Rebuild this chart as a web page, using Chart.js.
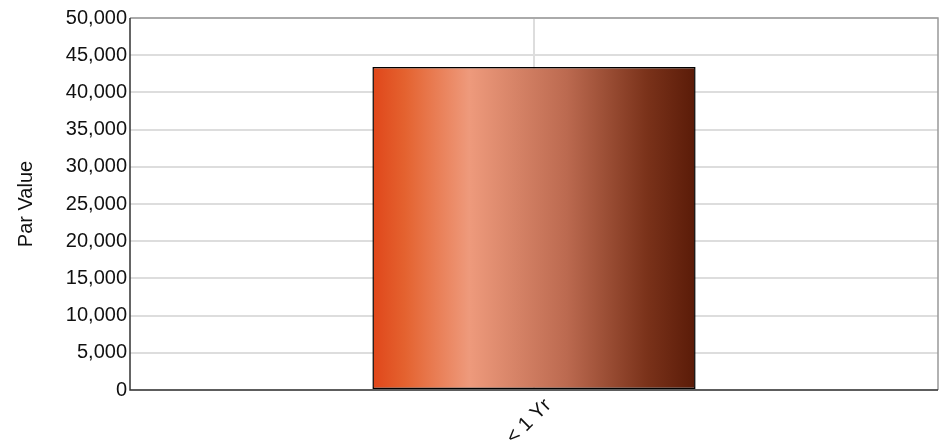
<!DOCTYPE html>
<html>
<head>
<meta charset="utf-8">
<script src="https://cdn.jsdelivr.net/npm/chart.js"></script>
<style>
html,body{margin:0;padding:0;background:#fff;}
#wrap{width:943px;height:445px;}
</style>
</head>
<body>
<div id="wrap"><canvas id="c" width="943" height="445"></canvas></div>
<script>
const categories = ["< 1 Yr"];
const parValues = [43400];
const yTicks = [0, 5000, 10000, 15000, 20000, 25000, 30000, 35000, 40000, 45000, 50000];
const axisTitle = "Par Value";

function barGradient(ctx) {
  const chart = ctx.chart;
  const xs = chart.scales && chart.scales.x;
  if (!xs || !chart.chartArea) return '#c0603f';
  const cw = xs.width / categories.length;
  const cx = xs.getPixelForValue(ctx.dataIndex);
  const w = cw * 0.4;
  const g = chart.ctx.createLinearGradient(cx - w / 2, 0, cx + w / 2, 0);
  g.addColorStop(0, '#E0461A');
  g.addColorStop(0.1, '#E4622F');
  g.addColorStop(0.3, '#EE9A7C');
  g.addColorStop(0.6, '#BC6A50');
  g.addColorStop(0.85, '#7A321A');
  g.addColorStop(1, '#5A1B08');
  return g;
}

const frame = {
  id: 'frame',
  afterDraw(chart) {
    const a = chart.chartArea, c = chart.ctx;
    c.save();
    c.strokeStyle = '#999';
    c.lineWidth = 1.5;
    c.beginPath();
    c.moveTo(a.left, a.top); c.lineTo(a.right, a.top); c.lineTo(a.right, a.bottom);
    c.stroke();
    c.strokeStyle = '#333';
    c.lineWidth = 1.5;
    c.beginPath();
    c.moveTo(a.left, a.top); c.lineTo(a.left, a.bottom); c.lineTo(a.right, a.bottom);
    c.stroke();
    c.restore();
  }
};

const FONT = 'Liberation Sans, Arial';

new Chart(document.getElementById('c'), {
  type: 'bar',
  data: {
    labels: categories,
    datasets: [{
      data: parValues,
      backgroundColor: barGradient,
      borderColor: '#000',
      borderWidth: 1.5,
      borderSkipped: false,
      barPercentage: 0.4,
      categoryPercentage: 1.0
    }]
  },
  options: {
    responsive: false,
    animation: false,
    devicePixelRatio: 1,
    layout: { padding: { top: 18, right: 5, left: 0, bottom: 0 } },
    plugins: { legend: { display: false }, tooltip: { enabled: false } },
    scales: {
      x: {
        grid: { offset: false, color: '#ddd', lineWidth: 2, drawTicks: false },
        border: { display: false },
        ticks: {
          color: '#111', font: { family: FONT, size: 20 },
          minRotation: 45, maxRotation: 45, padding: 4, labelOffset: 14
        },
        afterFit(s) { s.height = 55; }
      },
      y: {
        min: 0, max: 50000,
        afterBuildTicks(s) { s.ticks = yTicks.map(v => ({ value: v })); },
        grid: { color: '#ddd', lineWidth: 2, drawTicks: false },
        border: { display: false },
        ticks: {
          color: '#111', font: { family: FONT, size: 20 }, padding: 3,
          callback: v => v.toLocaleString('en-US')
        },
        title: { display: true, text: axisTitle, color: '#111', font: { family: FONT, size: 20 }, padding: { top: 14, bottom: 10 } },
        afterFit(s) { s.width = 130; }
      }
    }
  },
  plugins: [frame]
});
</script>
</body>
</html>
